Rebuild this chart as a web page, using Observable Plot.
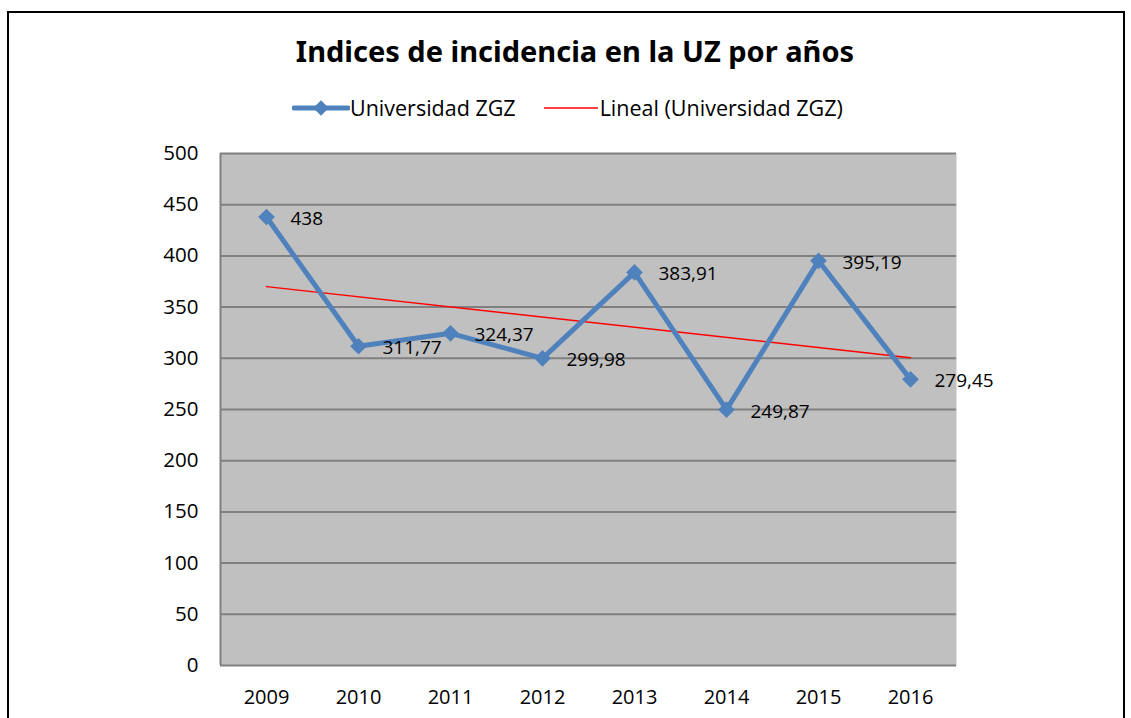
<!DOCTYPE html>
<html>
<head>
<meta charset="utf-8">
<script src="https://cdn.jsdelivr.net/npm/d3@7"></script>
<script src="https://cdn.jsdelivr.net/npm/@observablehq/plot@0.6"></script>
<style>
  html, body { margin: 0; padding: 0; background: #fff; }
  #wrap { position: relative; width: 1131px; height: 718px; overflow: hidden; font-family: "Open Sans", sans-serif; }
  #frame { position: absolute; left: 7px; top: 11px; width: 1118px; height: 720px; border: 2px solid #000; box-sizing: border-box; }
  #title { position: absolute; left: 0; width: 1150px; top: 31px; text-align: center; font-family: "Noto Sans", sans-serif; font-weight: bold; font-size: 29px; color: #000; }
  #legend { position: absolute; left: 292px; top: 93px; font-size: 21.5px; color: #000; display: flex; align-items: center; }
  #legend svg { display: block; }
  #chart { position: absolute; left: 0; top: 0; }
</style>
</head>
<body>
<div id="wrap">
  <div id="frame"></div>
  <div id="title">Indices de incidencia en la UZ por años</div>
  <div id="legend"></div>
  <div id="chart"></div>
</div>
<script>
const years = [2009, 2010, 2011, 2012, 2013, 2014, 2015, 2016];
const values = [438, 311.77, 324.37, 299.98, 383.91, 249.87, 395.19, 279.45];
const labels = ["438", "311,77", "324,37", "299,98", "383,91", "249,87", "395,19", "279,45"];
const yTicks = [0, 50, 100, 150, 200, 250, 300, 350, 400, 450, 500];
const seriesName = "Universidad ZGZ";
const trendName = "Lineal (Universidad ZGZ)";

const data = years.map((y, i) => ({year: y, value: values[i], label: labels[i]}));

const blue = "#4F81BD";
const red = "#FF0000";

const chart = Plot.plot({
  width: 1131,
  height: 718,
  marginLeft: 220,
  marginRight: 175,
  marginTop: 153,
  marginBottom: 53,
  style: {fontFamily: "Open Sans, sans-serif", fontSize: "20px", color: "#000", background: "transparent"},
  x: {domain: [2008.5, 2016.5], label: null},
  y: {domain: [0, 500], label: null},
  marks: [
    Plot.frame({fill: "#C0C0C0", stroke: null}),
    Plot.ruleY(yTicks, {stroke: "#808080", strokeWidth: 2}),
    Plot.ruleX([2008.5], {stroke: "#808080", strokeWidth: 2}),
    Plot.axisY({ticks: yTicks, tickSize: 0, tickPadding: 22, label: null, fontSize: 20.5}),
    Plot.axisX({ticks: years, tickSize: 0, tickPadding: 24, tickFormat: d => String(d), label: null, fontSize: 20}),
    Plot.linearRegressionY(data, {x: "year", y: "value", stroke: red, strokeWidth: 1.5, ci: 0}),
    Plot.line(data, {x: "year", y: "value", stroke: blue, strokeWidth: 5}),
    Plot.dot(data, {x: "year", y: "value", symbol: "diamond2", r: 7.5, fill: blue, stroke: null}),
    Plot.text(data, {x: "year", y: "value", text: "label", textAnchor: "start", dx: 24, dy: 2, fontSize: 19, fill: "#000"})
  ]
});
document.getElementById("chart").appendChild(chart);

// legend
const leg = document.getElementById("legend");
function swatch(kind) {
  const s = d3.create("svg").attr("width", 58).attr("height", 20);
  if (kind === "series") {
    s.append("line").attr("x1", 2).attr("x2", 56).attr("y1", 10).attr("y2", 10)
      .attr("stroke", blue).attr("stroke-width", 5).attr("stroke-linecap", "round");
    s.append("path").attr("d", d3.symbol(d3.symbolDiamond2, Math.PI * 7 * 7)()).attr("transform", "translate(29,10)").attr("fill", blue);
  } else {
    s.append("line").attr("x1", 2).attr("x2", 56).attr("y1", 10).attr("y2", 10)
      .attr("stroke", red).attr("stroke-width", 1.5);
  }
  return s.node();
}
leg.appendChild(swatch("series"));
const t1 = document.createElement("span"); t1.textContent = seriesName; t1.style.marginRight = "26px"; leg.appendChild(t1);
leg.appendChild(swatch("trend"));
const t2 = document.createElement("span"); t2.textContent = trendName; leg.appendChild(t2);
</script>
</body>
</html>
